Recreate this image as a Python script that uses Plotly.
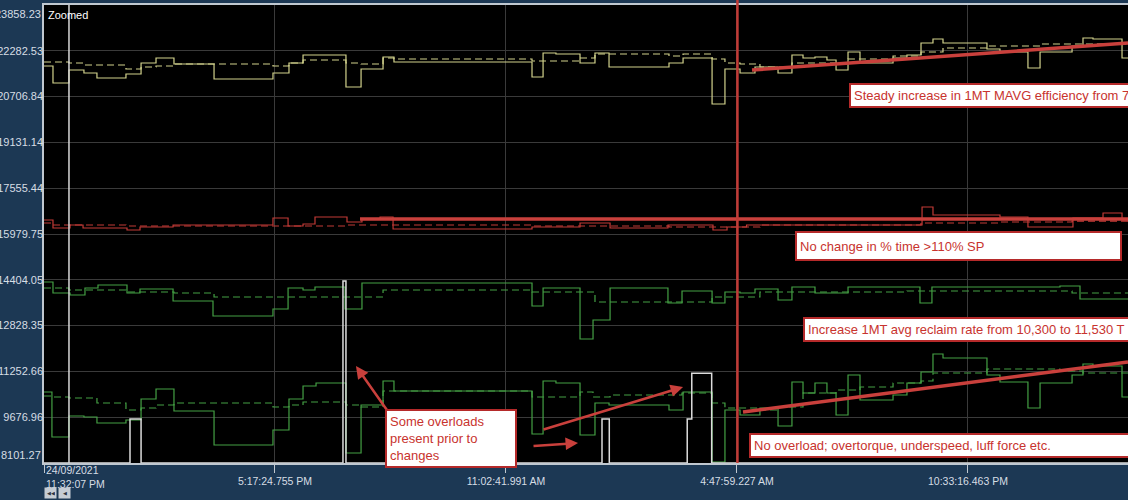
import plotly.graph_objects as go

# time axis: hours since 24/09/2021 11:32:07 PM
X_END = 83.32
Y_MIN, Y_MAX = 8101.27, 23858.23

x_ticks_h = [0, 17.755, 35.51, 53.264, 71.019]
x_tick_labels = ["", "5:17:24.755 PM", "11:02:41.991 AM", "4:47:59.227 AM", "10:33:16.463 PM"]
first_tick_label = "24/09/2021<br>11:32:07 PM"

y_ticks = [8101.27, 9676.96, 11252.66, 12828.35, 14404.05, 15979.75,
           17555.44, 19131.14, 20706.84, 22282.53, 23858.23]

# efficiency (yellow)
eff_t = [0, 0.69, 1.92, 3.07, 4.07, 6.30, 7.46, 8.61, 9.99, 13.07, 17.60, 18.83, 19.91,
         23.21, 24.37, 26.06, 26.90, 37.51, 38.36, 39.35, 41.20, 42.35, 43.43, 48.04,
         49.12, 51.35, 52.34, 53.50, 54.65, 56.42, 57.49, 58.34, 59.26, 60.18, 60.88,
         61.80, 62.72, 65.26, 66.33, 67.41, 68.33, 69.10, 72.48, 73.48, 75.63, 76.56,
         79.02, 79.86, 80.63, 82.86]
eff_v = [21760, 21174, 21622, 21519, 21346, 21484, 21863, 22035, 21829, 21312, 21519,
         21863, 22138, 21037, 21656, 22070, 21897, 21381, 22207, 22173, 21863, 22207,
         21725, 21863, 22035, 20452, 21656, 21519, 21725, 21519, 22138, 22035, 22070,
         21966, 21622, 22242, 21863, 22035, 22138, 22551, 22689, 22551, 22345, 22242,
         21691, 22242, 22448, 22723, 22689, 22035]
eff_ma_t = [0, 1.92, 3.07, 6.30, 7.46, 8.61, 9.99, 17.60, 18.83, 19.91, 23.21, 24.37,
            26.06, 26.90, 37.51, 41.20, 42.35, 48.04, 49.12, 51.35, 52.34, 53.50, 55.03,
            57.49, 61.80, 65.26, 67.41, 69.10, 72.48, 76.56]
eff_ma_v = [21897, 21863, 21794, 21656, 21725, 21760, 21829, 21760, 21863, 21966, 21863,
            21829, 22035, 22001, 21932, 22035, 22173, 22104, 22173, 22001, 21863, 21829,
            21725, 21863, 22001, 22104, 22242, 22379, 22448, 22517]

# % time > 110% SP (red)
red_t = [0, 0.69, 2.00, 3.00, 6.38, 7.38, 9.92, 17.60, 18.76, 19.91, 20.83, 23.29, 24.44,
         25.83, 26.83, 37.51, 41.20, 43.51, 47.96, 51.42, 52.50, 54.00, 67.49, 68.33,
         73.48, 75.63, 79.09, 81.40, 82.86]
red_v = [16461, 16186, 16289, 16186, 16117, 16220, 16289, 16530, 16255, 16324, 16564,
         16392, 16495, 16564, 16152, 16220, 16358, 16186, 16289, 16117, 16220, 16289,
         16909, 16633, 16564, 16220, 16530, 16702, 16461]
red_ma_t = [0, 0.69, 6.30, 23.21, 37.51, 48.04, 55.03, 67.41, 73.48, 79.02]
red_ma_v = [16358, 16289, 16255, 16289, 16255, 16220, 16289, 16358, 16392, 16426]

# upper green
g1_t = [0, 0.69, 2.00, 3.15, 4.15, 6.38, 7.38, 9.92, 12.99, 17.60, 18.76, 19.91, 20.83,
        23.14, 24.44, 37.51, 38.36, 41.20, 42.20, 43.51, 47.96, 49.04, 51.35, 52.34,
        53.50, 54.65, 56.42, 57.49, 59.26, 61.80, 67.33, 68.25, 78.09, 79.63]
g1_v = [14328, 13950, 13881, 14122, 14225, 13950, 14087, 13675, 13158, 13400, 14122,
        14053, 14156, 13400, 14294, 13503, 14122, 12367, 13021, 14122, 13606, 14019,
        13606, 13984, 13950, 14087, 13709, 14156, 13950, 14156, 13606, 14156, 14191, 13743]
g1_ma_t = [0, 1.92, 6.30, 9.99, 13.07, 26.06, 37.51, 42.35, 51.35, 55.03, 66.33, 79.02]
g1_ma_v = [14122, 14053, 13984, 13950, 13812, 14053, 13984, 13640, 13812, 13984, 14019, 13950]

# reclaim rate (lower green)
g2_t = [0, 0.61, 1.92, 3.07, 4.07, 6.30, 7.46, 8.61, 9.99, 13.07, 17.60, 18.83, 19.91,
        20.91, 23.21, 24.37, 26.06, 26.90, 37.51, 38.36, 39.35, 41.20, 42.35, 43.43,
        48.04, 49.12, 51.35, 52.34, 53.50, 55.03, 56.42, 57.49, 58.34, 59.26, 60.18,
        60.88, 61.80, 62.72, 65.26, 66.33, 67.41, 68.33, 69.10, 72.48, 73.48, 75.63,
        76.56, 79.02, 79.86, 80.63, 82.86]
g2_v = [10544, 8996, 9718, 9684, 9477, 9581, 10303, 10647, 9890, 8720, 9237, 10303,
        10750, 10854, 8445, 10097, 10922, 10578, 9099, 10922, 10854, 9065, 10165, 10097,
        9925, 10544, 8136, 9925, 9753, 9993, 9374, 10888, 10509, 10854, 10509, 9753,
        11129, 10269, 10441, 10854, 11232, 11851, 11714, 11129, 10888, 9993, 10854,
        11129, 11507, 11438, 10372]
g2_ma_t = [0, 0.69, 1.92, 4.07, 6.30, 7.46, 8.61, 9.99, 17.60, 18.83, 19.91, 23.21,
           24.37, 26.06, 37.51, 41.20, 42.20, 43.51, 49.04, 51.35, 52.34, 55.03, 56.42,
           58.34, 60.88, 62.72, 65.26, 67.41, 68.33, 72.48, 78.09, 79.86]
g2_ma_v = [10406, 10372, 10337, 10165, 9925, 9993, 10097, 10165, 10028, 10097, 10200,
           10097, 10028, 10578, 10372, 10544, 10372, 10441, 10509, 10165, 9993, 9925,
           10028, 10509, 10613, 10716, 10854, 10922, 11198, 11335, 11267, 11198]

# overloads (white)
ovl_t = [0, 6.61, 7.46, 22.98, 23.21, 42.89, 43.45, 49.44, 49.79, 51.32]
ovl_v = [8101.27, 9615, 8101.27, 14363, 8101.27, 9615, 8101.27, 9615, 11187, 8101.27]

cursor_h = 1.92
change_h = 53.3

# hand-drawn trend lines
eff_trend_x, eff_trend_y = [54.42, 83.32], [21622, 22551]
red_trend_x, red_trend_y = [24.29, 83.32], [16495, 16495]
rate_trend_x, rate_trend_y = [53.73, 83.32], [9856, 11576]

# arrows: head (x, y), tail (ax, ay)
arrows = [(23.98, 11438, 26.52, 9821),
          (49.12, 10716, 38.28, 9237),
          (41.05, 8789, 37.51, 8686)]

RED = "#c8332e"
YELLOW = "#d2d28c"
GREEN = "#44a044"
LINE_RED = "#c23a36"
LABEL = "#d6dde4"

fig = go.Figure()


def step_trace(t, v, color, dash=None, width=1.2):
    fig.add_trace(go.Scatter(
        x=list(t) + [X_END], y=list(v) + [v[-1]], mode="lines",
        line=dict(color=color, width=width, dash=dash, shape="hv"),
        hoverinfo="skip", showlegend=False))


step_trace(eff_ma_t, eff_ma_v, YELLOW, dash="7px,4px")
step_trace(eff_t, eff_v, YELLOW)
step_trace(red_ma_t, red_ma_v, LINE_RED, dash="7px,4px")
step_trace(red_t, red_v, LINE_RED)
step_trace(g1_ma_t, g1_ma_v, GREEN, dash="7px,4px")
step_trace(g1_t, g1_v, GREEN)
step_trace(g2_ma_t, g2_ma_v, GREEN, dash="7px,4px")
step_trace(g2_t, g2_v, GREEN)
step_trace(ovl_t, ovl_v, "#dcdcdc", width=1.5)

for tx, ty in [(eff_trend_x, eff_trend_y), (red_trend_x, red_trend_y), (rate_trend_x, rate_trend_y)]:
    fig.add_trace(go.Scatter(x=tx, y=ty, mode="lines",
                             line=dict(color="#c9403c", width=3.5),
                             hoverinfo="skip", showlegend=False))

fig.add_shape(type="line", xref="x", yref="paper", x0=cursor_h, x1=cursor_h, y0=0, y1=1,
              line=dict(color="#d8d8d8", width=1.5))
fig.add_shape(type="line", xref="x", yref="paper", x0=change_h, x1=change_h, y0=0, y1=1.012,
              line=dict(color=LINE_RED, width=2.5))

for hx, hy, tx, ty in arrows:
    fig.add_annotation(x=hx, y=hy, ax=tx, ay=ty, xref="x", yref="y", axref="x", ayref="y",
                       text="", showarrow=True, arrowhead=2, arrowsize=1,
                       arrowwidth=2.5, arrowcolor="#c9403c")

box = dict(xref="x", yref="y", xanchor="left", yanchor="middle", align="left",
           showarrow=False, bgcolor="white", bordercolor="#b52a2a", borderwidth=2,
           borderpad=3, font=dict(size=13, color=RED))
fig.add_annotation(x=61.88, y=20745, text="Steady increase in 1MT MAVG efficiency from 7",
                   width=330, **box)
fig.add_annotation(x=57.72, y=15584, text="No change in % time >110% SP",
                   width=317, height=20, **box)
fig.add_annotation(x=58.34, y=12711,
                   text="Increase 1MT avg reclaim rate from 10,300 to 11,530 T",
                   width=380, **box)
fig.add_annotation(x=54.19, y=8703,
                   text="No overload; overtorque, underspeed, luff force etc.",
                   width=400, **box)
fig.add_annotation(x=26.21, y=8944, text="Some overloads<br>present prior to<br>changes",
                   width=122, **box)

fig.add_annotation(x=0, y=1, xref="paper", yref="paper", xanchor="left", yanchor="top",
                   xshift=2, yshift=-2, text="Zoomed", showarrow=False,
                   font=dict(size=11, color="#ffffff"))
fig.add_annotation(x=0, y=0, xref="x", yref="paper", xanchor="left", yanchor="top",
                   yshift=1, text=first_tick_label, showarrow=False, align="left",
                   font=dict(size=10.5, color=LABEL))
# end labels of the value axis sit inside the plot height
fig.add_annotation(x=0, y=1, xref="paper", yref="paper", xanchor="right", yanchor="top",
                   xshift=-1, yshift=-1, text=f"{y_ticks[-1]:.2f}", showarrow=False,
                   font=dict(size=11, color=LABEL))
fig.add_annotation(x=0, y=0, xref="paper", yref="paper", xanchor="right", yanchor="bottom",
                   xshift=-1, yshift=0, text=f"{y_ticks[0]:.2f}", showarrow=False,
                   font=dict(size=11, color=LABEL))
for bx, glyph in [(0.0, "◀◀"), (0.0125, "◀")]:
    fig.add_annotation(x=bx, y=-0.0655, xref="paper", yref="paper", xanchor="left",
                       yanchor="middle", text=glyph, showarrow=False,
                       bgcolor="#c5ccd4", borderpad=1, width=9, height=8,
                       font=dict(size=5, color="#2a3340"))

fig.update_layout(
    width=1128, height=500,
    margin=dict(l=44, r=0, t=5, b=37),
    paper_bgcolor="#1c3854", plot_bgcolor="#000000",
    showlegend=False,
    font=dict(family="Liberation Sans, Arial, sans-serif", size=10.5, color=LABEL),
)
fig.update_xaxes(range=[0, X_END], tickvals=x_ticks_h, ticktext=x_tick_labels,
                 showgrid=True, gridcolor="#3a3a3a", gridwidth=1, zeroline=False,
                 ticks="outside", ticklen=8, tickcolor="#c0c8d0",
                 showline=True, linecolor="#c0c8d0", linewidth=1.5, mirror=True,
                 tickfont=dict(size=10.5, color=LABEL), automargin=False)
fig.update_yaxes(range=[Y_MIN - 0.05, Y_MAX + 0.05], tickvals=y_ticks,
                 ticktext=[""] + [f"{v:.2f}" for v in y_ticks[1:-1]] + [""],
                 showgrid=True, gridcolor="#3a3a3a", gridwidth=1, zeroline=False,
                 showline=True, linecolor="#c0c8d0", linewidth=1.5, ticks="",
                 ticklabeloverflow="allow", ticklabelstandoff=-3,
                 tickfont=dict(size=11, color=LABEL), automargin=False)

fig.write_html("out.html", config={"displayModeBar": False},
               post_script="document.body.style.margin='0';")
